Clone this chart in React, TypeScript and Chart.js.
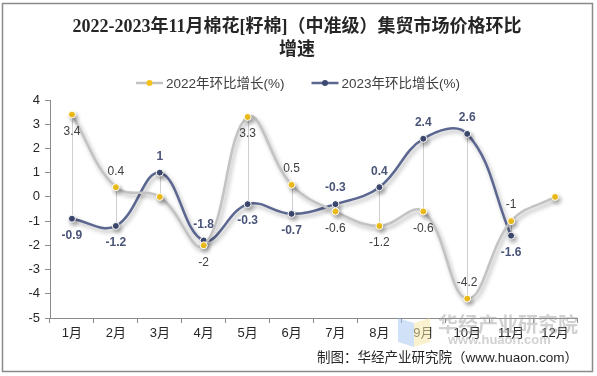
import React, { useEffect, useRef } from "react";
import { Chart, registerables } from "chart.js";

Chart.register(...registerables);

const months = ["1月", "2月", "3月", "4月", "5月", "6月", "7月", "8月", "9月", "10月", "11月", "12月"];
const series2022 = [3.4, 0.4, 0, -2, 3.3, 0.5, -0.6, -1.2, -0.6, -4.2, -1, 0];
const series2023 = [-0.9, -1.2, 1, -1.8, -0.3, -0.7, -0.3, 0.4, 2.4, 2.6, -1.6, null];
// label placement: "a" above, "b" below, "" none
const labelPos2022 = ["b", "a", "", "b", "b", "a", "b", "b", "b", "a", "a", ""];
const labelPos2023 = ["b", "b", "a", "a", "b", "b", "a", "a", "a", "a", "b", ""];
const yTicks = [4, 3, 2, 1, 0, -1, -2, -3, -4, -5];
const titleLines = ["2022-2023年11月棉花[籽棉]（中准级）集贸市场价格环比", "增速"];
const legendLabels = ["2022年环比增长(%)", "2023年环比增长(%)"];
const footerText = "制图：华经产业研究院（www.huaon.com）";

const C22_LINE = "#c3c3c3";
const C22_PT = "#f4c21c";
const C23_LINE = "#5b6791";
const C23_PT = "#3e4a70";

const SANS = "'Liberation Sans', Arial, 'Noto Sans CJK SC', sans-serif";
const SERIF = "'Liberation Serif', 'Noto Sans CJK SC', serif";

const decorPlugin = {
  id: "decor",
  beforeDatasetsDraw(chart: any) {
    const ctx = chart.ctx;
    const m0 = chart.getDatasetMeta(0).data;
    const m1 = chart.getDatasetMeta(1).data;
    ctx.save();
    ctx.strokeStyle = "#cfcfcf";
    ctx.lineWidth = 1;
    for (let i = 0; i < months.length; i++) {
      if (series2022[i] == null || series2023[i] == null) continue;
      const a = m0[i], b = m1[i];
      ctx.beginPath();
      ctx.moveTo(Math.round(a.x) + 0.5, a.y);
      ctx.lineTo(Math.round(a.x) + 0.5, b.y);
      ctx.stroke();
    }
    ctx.restore();
  },
  beforeDatasetDraw(chart: any) {
    const ctx = chart.ctx;
    ctx.save();
    ctx.shadowColor = "rgba(0,0,0,0.3)";
    ctx.shadowBlur = 4;
    ctx.shadowOffsetX = 2;
    ctx.shadowOffsetY = 3;
  },
  afterDatasetDraw(chart: any) {
    chart.ctx.restore();
  },
  afterDatasetsDraw(chart: any) {
    const ctx = chart.ctx;
    const sets = [
      { meta: chart.getDatasetMeta(0).data, vals: series2022, pos: labelPos2022, font: `12px ${SANS}`, color: "#404040" },
      { meta: chart.getDatasetMeta(1).data, vals: series2023, pos: labelPos2023, font: `bold 12px ${SANS}`, color: "#4a5478" },
    ];
    ctx.save();
    ctx.textAlign = "center";
    ctx.textBaseline = "middle";
    for (const s of sets) {
      ctx.font = s.font;
      ctx.fillStyle = s.color;
      for (let i = 0; i < s.vals.length; i++) {
        const v = s.vals[i];
        if (v == null || !s.pos[i]) continue;
        const p = s.meta[i];
        const dy = s.pos[i] === "a" ? -16 : 17;
        ctx.fillText(String(v), p.x, p.y + dy);
      }
    }
    ctx.restore();
  },
  afterDraw(chart: any) {
    const ctx = chart.ctx;
    ctx.save();
    // title
    ctx.fillStyle = "#262626";
    ctx.textAlign = "center";
    ctx.textBaseline = "middle";
    ctx.font = `bold 18px ${SERIF}`;
    ctx.fillText(titleLines[0], 297, 27);
    ctx.fillText(titleLines[1], 297, 50);

    // legend
    ctx.font = `13.5px ${SANS}`;
    const lineW = 27, gap1 = 3, gap2 = 27;
    const w0 = ctx.measureText(legendLabels[0]).width;
    const w1 = ctx.measureText(legendLabels[1]).width;
    const total = lineW + gap1 + w0 + gap2 + lineW + gap1 + w1;
    let x = 298 - total / 2;
    const ly = 83;
    const items = [
      { line: C22_LINE, pt: C22_PT, text: legendLabels[0], w: w0 },
      { line: C23_LINE, pt: C23_PT, text: legendLabels[1], w: w1 },
    ];
    ctx.textAlign = "left";
    for (const it of items) {
      ctx.strokeStyle = it.line;
      ctx.lineWidth = 2.5;
      ctx.beginPath();
      ctx.moveTo(x, ly);
      ctx.lineTo(x + lineW, ly);
      ctx.stroke();
      ctx.fillStyle = it.pt;
      ctx.beginPath();
      ctx.arc(x + lineW / 2, ly, 3, 0, Math.PI * 2);
      ctx.fill();
      ctx.fillStyle = "#404040";
      ctx.fillText(it.text, x + lineW + gap1, ly + 1);
      x += lineW + gap1 + it.w + gap2;
    }

    // watermark
    ctx.globalAlpha = 0.55;
    ctx.fillStyle = "#a9c9f2";
    ctx.beginPath();
    ctx.moveTo(398, 318);
    ctx.lineTo(414, 323);
    ctx.lineTo(414, 347);
    ctx.lineTo(398, 342);
    ctx.closePath();
    ctx.fill();
    ctx.fillStyle = "#f6e6a6";
    ctx.beginPath();
    ctx.moveTo(414, 323);
    ctx.lineTo(430, 318);
    ctx.lineTo(430, 342);
    ctx.lineTo(414, 347);
    ctx.closePath();
    ctx.fill();
    ctx.globalAlpha = 0.45;
    ctx.fillStyle = "#9a9a9a";
    ctx.font = `bold 20px ${SANS}`;
    ctx.textAlign = "left";
    ctx.fillText("华经产业研究院", 438, 326);
    ctx.font = `bold 13px ${SANS}`;
    ctx.fillText("www.huaon.com", 448, 340);
    ctx.globalAlpha = 1;

    // footer
    ctx.fillStyle = "#262626";
    ctx.font = `13.5px ${SANS}`;
    ctx.textAlign = "right";
    ctx.fillText(footerText, 578, 358);

    // frame
    ctx.strokeStyle = "#8a8a8a";
    ctx.lineWidth = 1.5;
    ctx.strokeRect(2.5, 3.5, 590, 368);
    ctx.restore();
  },
};

export default function App() {
  const ref = useRef<HTMLCanvasElement | null>(null);
  useEffect(() => {
    if (!ref.current) return;
    const chart = new Chart(ref.current, {
      type: "line",
      data: {
        labels: months,
        datasets: [
          {
            label: legendLabels[0],
            data: series2022,
            borderColor: C22_LINE,
            borderWidth: 2.5,
            tension: 0.4,
            pointRadius: 3.5,
            pointBackgroundColor: C22_PT,
            pointBorderColor: "#ffffff",
            pointBorderWidth: 1,
            spanGaps: false,
          },
          {
            label: legendLabels[1],
            data: series2023,
            borderColor: C23_LINE,
            borderWidth: 2.5,
            tension: 0.4,
            pointRadius: 3.5,
            pointBackgroundColor: C23_PT,
            pointBorderColor: "#ffffff",
            pointBorderWidth: 1,
            spanGaps: false,
          },
        ],
      },
      options: {
        responsive: false,
        animation: false,
        layout: { padding: { left: 10, right: 20, top: 100, bottom: 28 } },
        plugins: {
          legend: { display: false },
          title: { display: false },
          tooltip: { enabled: false },
        },
        scales: {
          x: {
            type: "category",
            offset: true,
            afterFit: (s: any) => { s.height = 30; },
            grid: {
              display: true,
              offset: true,
              drawOnChartArea: false,
              drawTicks: true,
              tickLength: 5,
              color: "#8a8a8a",
            },
            border: { display: true, color: "#8a8a8a", width: 1 },
            ticks: {
              color: "#262626",
              font: { size: 13, family: SANS },
              padding: 3,
              maxRotation: 0,
              autoSkip: false,
            },
          },
          y: {
            min: -5,
            max: 4,
            afterFit: (s: any) => { s.width = 40; },
            afterBuildTicks: (s: any) => {
              s.ticks = yTicks.map((v) => ({ value: v }));
            },
            grid: {
              display: true,
              drawOnChartArea: false,
              drawTicks: true,
              tickLength: 5,
              color: "#8a8a8a",
            },
            border: { display: true, color: "#8a8a8a", width: 1 },
            ticks: {
              color: "#262626",
              font: { size: 13, family: SANS },
              padding: 5,
            },
          },
        },
      },
      plugins: [decorPlugin],
    });
    return () => chart.destroy();
  }, []);
  return (
    <div style={{ position: "fixed", left: 0, top: 0, width: 597, height: 376, background: "#fff" }}>
      <canvas ref={ref} width={597} height={376} style={{ display: "block" }} />
    </div>
  );
}
